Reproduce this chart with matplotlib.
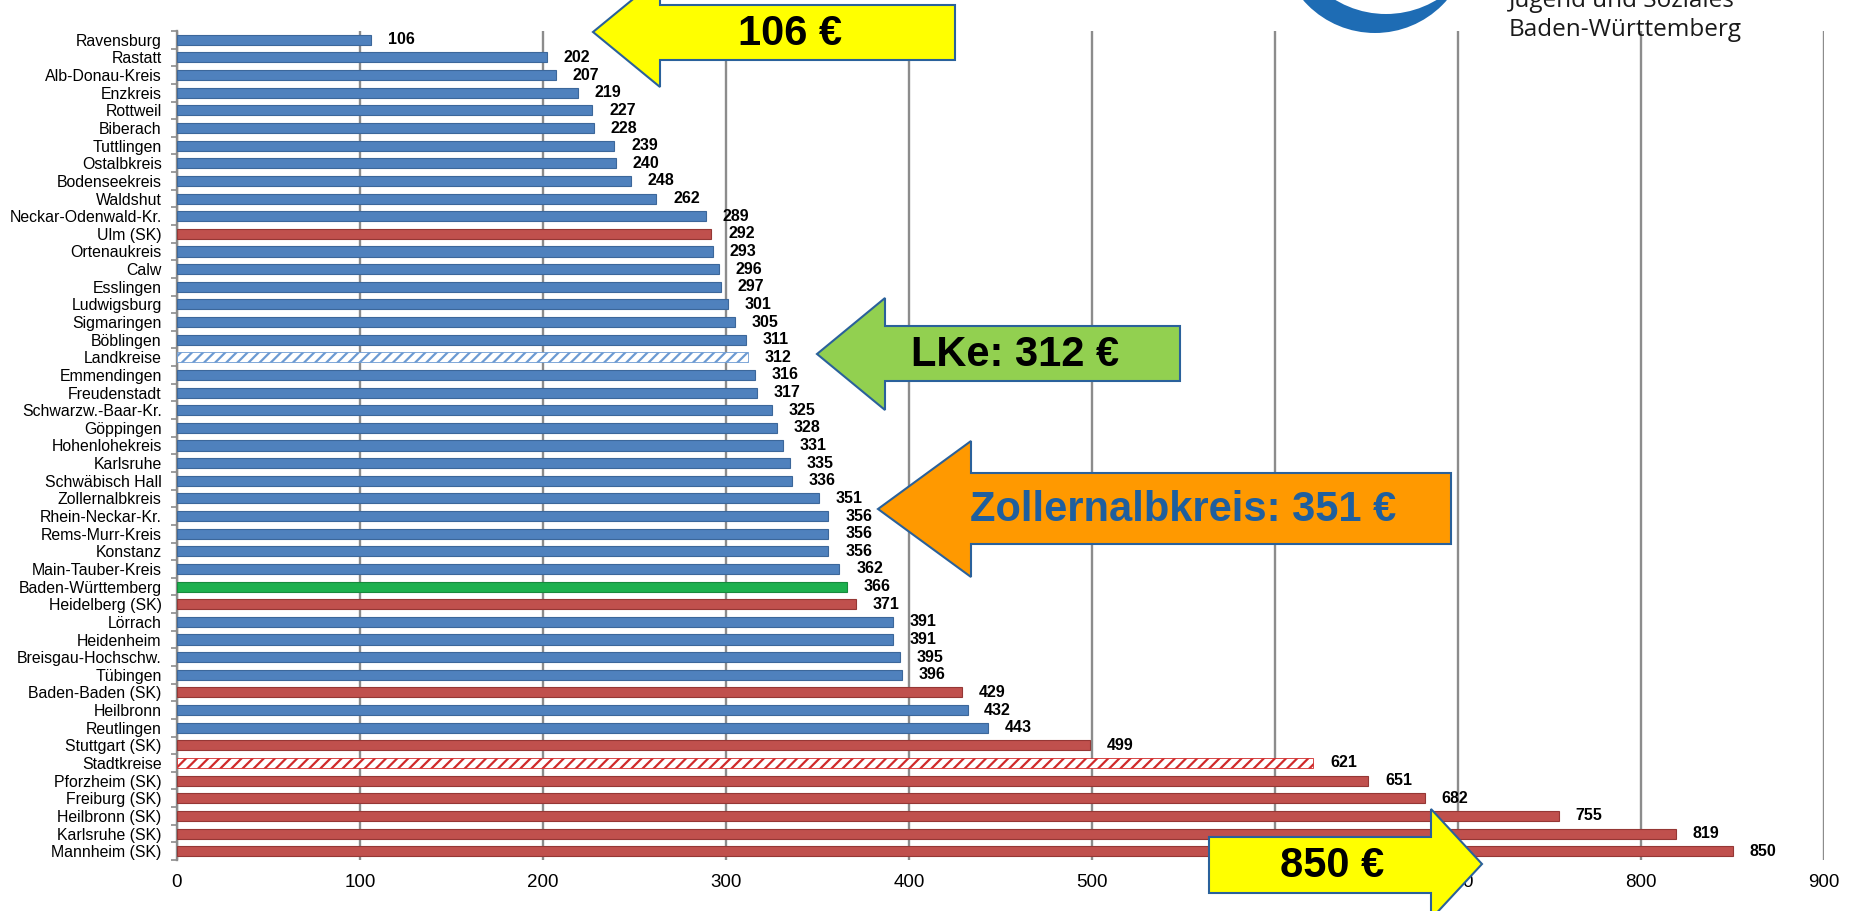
import numpy as np
import matplotlib
matplotlib.use('Agg')
import matplotlib.pyplot as plt
from matplotlib.patches import Polygon, Circle

plt.rcParams['font.family'] = ['Liberation Sans', 'DejaVu Sans']
plt.rcParams['hatch.linewidth'] = 1.6

# data, top to bottom
kreise = ['Ravensburg', 'Rastatt', 'Alb-Donau-Kreis', 'Enzkreis', 'Rottweil', 'Biberach',
          'Tuttlingen', 'Ostalbkreis', 'Bodenseekreis', 'Waldshut', 'Neckar-Odenwald-Kr.',
          'Ulm (SK)', 'Ortenaukreis', 'Calw', 'Esslingen', 'Ludwigsburg', 'Sigmaringen',
          'Böblingen', 'Landkreise', 'Emmendingen', 'Freudenstadt', 'Schwarzw.-Baar-Kr.',
          'Göppingen', 'Hohenlohekreis', 'Karlsruhe', 'Schwäbisch Hall', 'Zollernalbkreis',
          'Rhein-Neckar-Kr.', 'Rems-Murr-Kreis', 'Konstanz', 'Main-Tauber-Kreis',
          'Baden-Württemberg', 'Heidelberg (SK)', 'Lörrach', 'Heidenheim',
          'Breisgau-Hochschw.', 'Tübingen', 'Baden-Baden (SK)', 'Heilbronn', 'Reutlingen',
          'Stuttgart (SK)', 'Stadtkreise', 'Pforzheim (SK)', 'Freiburg (SK)',
          'Heilbronn (SK)', 'Karlsruhe (SK)', 'Mannheim (SK)']
werte = [106, 202, 207, 219, 227, 228, 239, 240, 248, 262, 289, 292, 293, 296, 297, 301,
         305, 311, 312, 316, 317, 325, 328, 331, 335, 336, 351, 356, 356, 356, 362, 366,
         371, 391, 391, 395, 396, 429, 432, 443, 499, 621, 651, 682, 755, 819, 850]
# 'L' Landkreis, 'S' Stadtkreis, 'LK' / 'SK' averages, 'BW' state
typ = ['L'] * 11 + ['S'] + ['L'] * 6 + ['LK'] + ['L'] * 12 + ['BW', 'S'] + ['L'] * 4 + \
      ['S', 'L', 'L', 'S', 'SK'] + ['S'] * 5

blau, rot, gruen = '#4F81BD', '#C0504D', '#1DB04E'

fig = plt.figure(figsize=(18.56, 9.11), dpi=100)
ax = fig.add_axes([177 / 1856, 1 - 860 / 911, 1647 / 1856, 829 / 911])

y = np.arange(len(kreise))
for i, (w, t) in enumerate(zip(werte, typ)):
    if t == 'L':
        ax.barh(i, w, height=0.57, color=blau, edgecolor='#3C679A', linewidth=0.8, zorder=3)
    elif t == 'S':
        ax.barh(i, w, height=0.57, color=rot, edgecolor='#953735', linewidth=0.8, zorder=3)
    elif t == 'BW':
        ax.barh(i, w, height=0.57, color=gruen, edgecolor='#178A3D', linewidth=0.8, zorder=3)
    elif t == 'LK':
        ax.barh(i, w, height=0.57, facecolor='white', edgecolor='#6C9AD2', hatch='///',
                linewidth=0.6, zorder=3)
    else:
        ax.barh(i, w, height=0.57, facecolor='white', edgecolor='#D02A2A', hatch='///',
                linewidth=0.6, zorder=3)
    ax.annotate(str(w), (w, i), xytext=(12, 0), textcoords='offset points',
                ha='left', va='center', fontsize=11.5, fontweight='bold')

ax.set_xlim(0, 900)
ax.set_ylim(len(kreise) - 0.5, -0.5)
ax.set_xticks(range(0, 1000, 100))
ax.tick_params(axis='x', length=0, pad=10, labelsize=13.5)
ax.set_yticks(y)
ax.set_yticklabels(kreise, fontsize=11.4)
ax.set_yticks(np.arange(-0.5, len(kreise), 1), minor=True)
ax.tick_params(axis='y', which='major', length=0, pad=11)
ax.tick_params(axis='y', which='minor', length=4, color='#8C8C8C', width=1.2)
ax.grid(axis='x', color='#8C8C8C', linewidth=1.7, zorder=0)
ax.set_axisbelow(True)
for s in ['top', 'right', 'bottom']:
    ax.spines[s].set_visible(False)
ax.spines['left'].set_color('#8C8C8C')
ax.spines['left'].set_linewidth(1.7)

# overlay in pixel coordinates for arrows and logo
ov = fig.add_axes([0, 0, 1, 1], zorder=5)
ov.set_xlim(0, 1856)
ov.set_ylim(911, 0)
ov.axis('off')

rand = '#2A619B'


def pfeil_links(tip, back, ht, hb, bt, bb, right, farbe):
    pts = [tip, (back, ht), (back, bt), (right, bt), (right, bb), (back, bb), (back, hb)]
    ov.add_patch(Polygon(pts, closed=True, facecolor=farbe, edgecolor=rand, linewidth=1.5))


pfeil_links((593, 32), 660, -23, 87, 5, 60, 955, '#FFFF00')
ov.text(790, 34, '106 €', fontsize=30, fontweight='bold', ha='center', va='center')

pfeil_links((817, 354), 885, 298, 410, 326, 381, 1180, '#92D050')
ov.text(1015, 355, 'LKe: 312 €', fontsize=30, fontweight='bold', ha='center', va='center')

pfeil_links((878, 509), 971, 441, 577, 473, 544, 1451, '#FF9900')
ov.text(1183, 510, 'Zollernalbkreis: 351 €', fontsize=30, fontweight='bold',
        ha='center', va='center', color='#1F5F9E')

pts = [(1209, 837), (1431, 837), (1431, 809), (1482, 864), (1431, 919), (1431, 893), (1209, 893)]
ov.add_patch(Polygon(pts, closed=True, facecolor='#FFFF00', edgecolor=rand, linewidth=1.5))
ov.text(1332, 866, '850 €', fontsize=30, fontweight='bold', ha='center', va='center')

# logo
ov.add_patch(Circle((1375, -62), 95, facecolor='#1E6CB4', edgecolor='none'))
ov.add_patch(Circle((1386, -84), 98, facecolor='white', edgecolor='none'))
ov.text(1509, 7, 'Jugend und Soziales', fontsize=17.5, family='Open Sans',
        ha='left', va='baseline', color='#1A1A1A')
ov.text(1509, 36, 'Baden-Württemberg', fontsize=17.5, family='Open Sans',
        ha='left', va='baseline', color='#1A1A1A')

fig.savefig('out.png', dpi=100)
